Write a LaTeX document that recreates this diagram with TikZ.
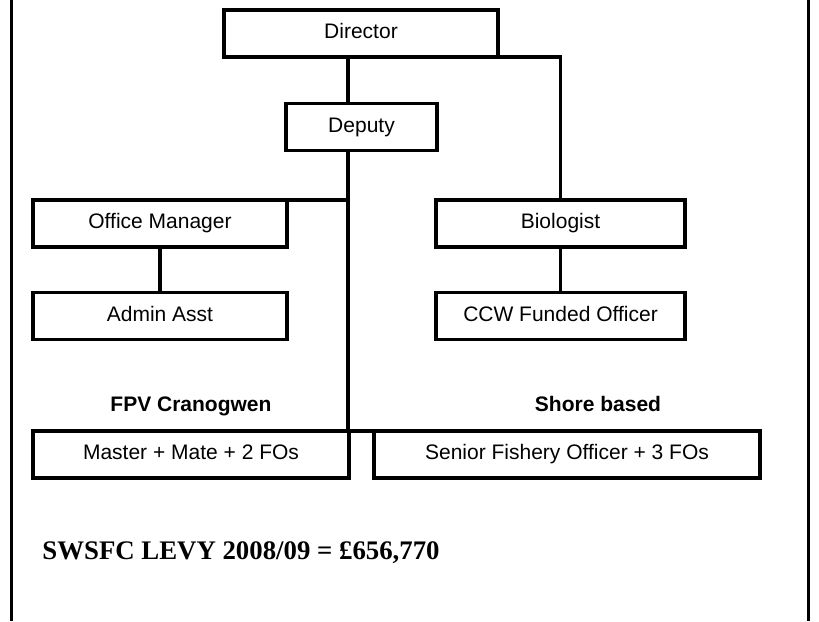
\documentclass[tikz,border=0pt]{standalone}
\usepackage{fontspec}
\setmainfont{Liberation Sans}
\newfontfamily\levyfont{Liberation Serif}
\usetikzlibrary{positioning}

\begin{document}
\begin{tikzpicture}
          [x=0.5pt, y=-0.5pt,
          post/.style={draw, line width=1.7pt, rectangle, inner sep=0pt, outer sep=0pt, align=center,
              minimum height=23.5pt, text height=7.6pt, text depth=2.2pt,
              font=\fontsize{10.5}{12.6}\selectfont},
          heading/.style={text height=7.6pt, text depth=2.2pt, font=\fontsize{10.5}{12.6}\selectfont\bfseries},
          line/.style={draw, line width=1.6pt}]
          \useasboundingbox (0,0) rectangle (819,621);

          % frame sides
          \draw [line width=1.5pt] (11,0) -- (11,621);
          \draw [line width=1.5pt] (808,0) -- (808,621);

          \node [post, minimum width=137pt] (director) at (361,33.5) {Director};
          \node [post, minimum width=75.5pt] (deputy) at (361.5,127) {Deputy};
          \node [post, minimum width=127pt] (officemgr) at (160,223.5) {Office Manager};
          \node [post, minimum width=127pt] (adminasst) at (160,316) {Admin Asst};
          \node [post, minimum width=124.5pt] (biologist) at (560.5,223.5) {Biologist};
          \node [post, minimum width=124.5pt] (ccwofficer) at (560.5,316) {CCW Funded Officer};
          \node [heading] (fpvhead) at (191,406) {FPV Cranogwen};
          \node [heading] (shorehead) at (598,406) {Shore based};
          \node [post, minimum width=158pt] (master) at (191,454.5) {Master + Mate + 2 FOs};
          \node [post, minimum width=193pt] (senior) at (567,454.5) {Senior Fishery Officer + 3 FOs};
          \node [anchor=west, inner sep=0pt, font=\levyfont\fontsize{13.4}{16}\selectfont\bfseries]
              (levy) at (42,553) {SWSFC LEVY 2008/09 = \pounds656,770};

          \coordinate (bus) at (348,431);
          \begin{scope}[every path/.style=line]
              \path (director.south -| bus) -- (deputy.north -| bus);
              \path (deputy.south -| bus) -- (bus);
              \path (officemgr.north east) -- (officemgr.north east -| bus);
              \path (officemgr) -- (adminasst);
              \path (director.south east) -| (biologist.north);
              \path (biologist) -- (ccwofficer);
              \path (master.north east) -- (senior.north west);
          \end{scope}
  \end{tikzpicture}
\end{document}
